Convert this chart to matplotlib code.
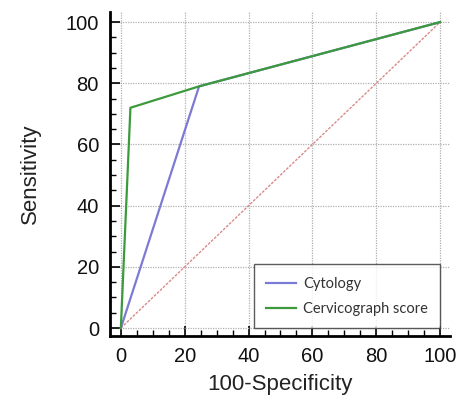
import matplotlib
matplotlib.use("Agg")
import matplotlib.pyplot as plt
from matplotlib.ticker import MultipleLocator

plt.rcParams["font.family"] = ["Liberation Sans", "DejaVu Sans"]

# ROC curve points (100-Specificity, Sensitivity)
cyto_x = [0, 24.5, 100]
cyto_y = [0, 79, 100]
cervi_x = [0, 3, 24.5, 100]
cervi_y = [0, 72, 79, 100]
diag = [0, 100]
ticks = [0, 20, 40, 60, 80, 100]

fig = plt.figure(figsize=(4.61, 4.03), dpi=100)
ax = fig.add_axes([110 / 461, 1 - 336 / 403, 340 / 461, 324 / 403])

ax.plot(diag, diag, color="#d98a8a", lw=1.0, ls=(0, (2, 1)), zorder=2)
ax.plot(cyto_x, cyto_y, color="#7b7bd6", lw=1.6, label="Cytology", zorder=3)
ax.plot(cervi_x, cervi_y, color="#3c9a3c", lw=1.6, label="Cervicograph score", zorder=4)

ax.set_xlim(-3.4, 103.1)
ax.set_ylim(-2.6, 103.3)
ax.set_xticks(ticks)
ax.set_yticks(ticks)
ax.xaxis.set_minor_locator(MultipleLocator(5))
ax.yaxis.set_minor_locator(MultipleLocator(5))
ax.tick_params(which="major", direction="in", length=7, width=1.2, labelsize=14.5,
               pad=8, labelcolor="#111111")
ax.tick_params(which="minor", direction="in", length=4, width=1.0)

ax.grid(True, which="major", color="#b0b0b0", ls=(0, (1, 1)), lw=0.9)

for s in ["top", "right"]:
    ax.spines[s].set_visible(False)
for s in ["left", "bottom"]:
    ax.spines[s].set_linewidth(2)

ax.set_xlabel("100-Specificity", fontsize=16, labelpad=6, color="#222222")
ax.set_ylabel("Sensitivity", fontsize=16, labelpad=18, color="#222222")

leg = ax.legend(loc="lower right", bbox_to_anchor=(100, 0), bbox_transform=ax.transData,
                borderaxespad=0, frameon=True, fancybox=False, edgecolor="#333333",
                handlelength=2.0, handletextpad=0.5, borderpad=0.85, labelspacing=0.75,
                prop={"family": "Lato", "size": 10.5})
leg.get_frame().set_linewidth(1.0)
for t in leg.get_texts():
    t.set_color("#333333")

fig.savefig("out.png", dpi=100)
